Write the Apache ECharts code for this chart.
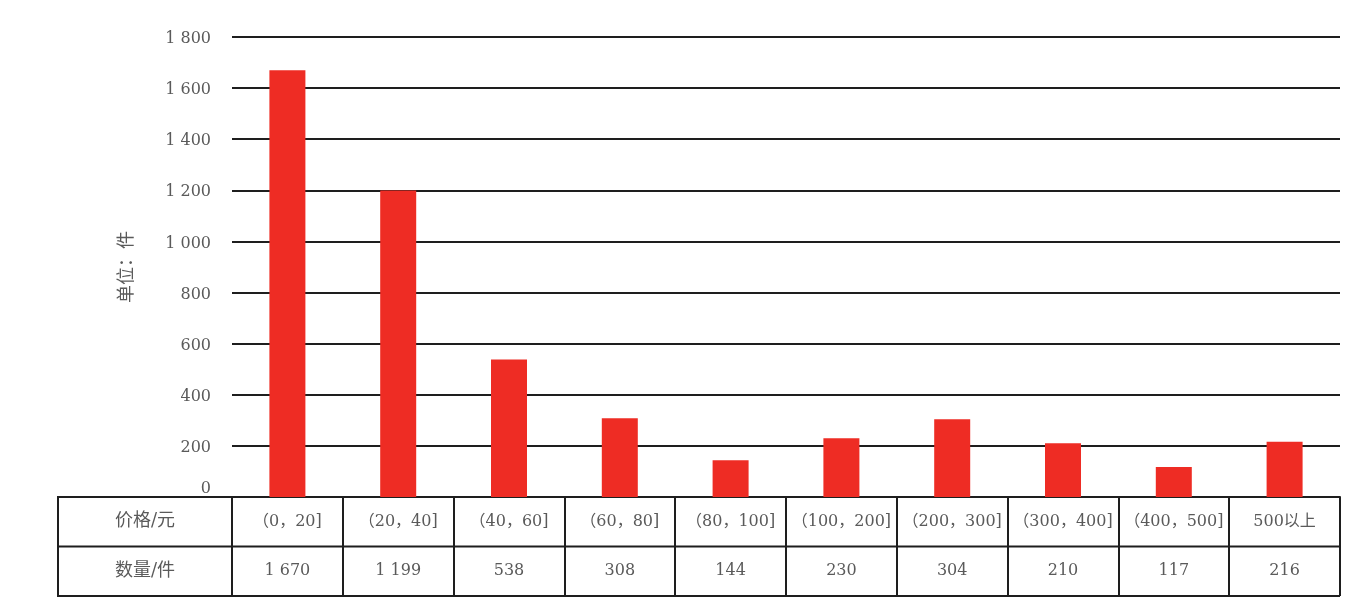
<!DOCTYPE html>
<html><head><meta charset="utf-8">
<script src="https://cdn.jsdelivr.net/npm/echarts@6/dist/echarts.min.js"></script>
<style>html,body{margin:0;padding:0;background:#fff}#c{width:1370px;height:603px}</style>
</head><body><div id="c"></div>
<script>
const categories = ['（0，20]','（20，40]','（40，60]','（60，80]','（80，100]','（100，200]','（200，300]','（300，400]','（400，500]','500以上'];
const counts = [1670, 1199, 538, 308, 144, 230, 304, 210, 117, 216];
const rowHeaders = ['价格/元', '数量/件'];
const yTicks = {min: 0, max: 1800, interval: 200};
const yName = '单位：件';

const FONT = "'DejaVu Serif', 'Noto Sans CJK SC', serif";
const TXT = '#5a5a5a';
const LINE = '#1e1e1e';
const L = 232, R = 30, T = 37, B = 106;
const W = 1370, H = 603;
const axisY = H - B;
const tableLeft = 58;
const rowH = 49.5;

function fmt(v){ return String(v).replace(/\B(?=(\d{3})+(?!\d))/g, ' '); }

const chart = echarts.init(document.getElementById('c'), null, {renderer:'canvas'});
chart.setOption({
  animation: false,
  grid: {left: L, right: R, top: T, bottom: B},
  xAxis: {
    type: 'category', data: categories, boundaryGap: true,
    axisLine: {show: true, lineStyle: {color: LINE, width: 2}},
    axisTick: {show: true, length: rowH * 2, lineStyle: {color: LINE, width: 2}},
    axisLabel: {
      interval: 0, margin: 0,
      formatter: (v, i) => '{a|' + v + '}\n{a|' + fmt(counts[i]) + '}',
      rich: {a: {fontFamily: FONT, fontSize: 16, color: TXT, lineHeight: rowH, height: rowH}}
    }
  },
  yAxis: {
    type: 'value', min: yTicks.min, max: yTicks.max, interval: yTicks.interval,
    name: yName, nameLocation: 'middle', nameGap: 96,
    nameTextStyle: {fontFamily: FONT, fontSize: 18, color: TXT},
    axisLine: {show: false}, axisTick: {show: false},
    axisLabel: {
      margin: 21,
      formatter: v => v === 0 ? '{z|0}' : '{n|' + fmt(v) + '}',
      rich: {
        n: {fontFamily: FONT, fontSize: 16, color: TXT, padding: [4, 0, 0, 0]},
        z: {fontFamily: FONT, fontSize: 16, color: TXT, padding: [0, 0, 16, 0]}
      }
    },
    splitLine: {lineStyle: {color: LINE, width: 2}}
  },
  series: [{
    type: 'bar', data: counts, barWidth: 36,
    itemStyle: {color: '#ee2c24'}, z: 3
  }],
  graphic: [
    {type: 'line', shape: {x1: tableLeft, y1: axisY, x2: L, y2: axisY}, style: {stroke: LINE, lineWidth: 2}},
    {type: 'line', shape: {x1: tableLeft, y1: axisY + rowH, x2: W - R, y2: axisY + rowH}, style: {stroke: LINE, lineWidth: 2}},
    {type: 'line', shape: {x1: tableLeft, y1: axisY + rowH * 2, x2: W - R, y2: axisY + rowH * 2}, style: {stroke: LINE, lineWidth: 2}},
    {type: 'line', shape: {x1: tableLeft, y1: axisY - 1, x2: tableLeft, y2: axisY + rowH * 2 + 1}, style: {stroke: LINE, lineWidth: 2}},
    {type: 'text', x: (tableLeft + L) / 2, y: axisY + rowH / 2, style: {text: rowHeaders[0], font: '18px ' + FONT, fill: TXT, align: 'center', verticalAlign: 'middle'}},
    {type: 'text', x: (tableLeft + L) / 2, y: axisY + rowH * 1.5, style: {text: rowHeaders[1], font: '18px ' + FONT, fill: TXT, align: 'center', verticalAlign: 'middle'}}
  ]
});
</script></body></html>
